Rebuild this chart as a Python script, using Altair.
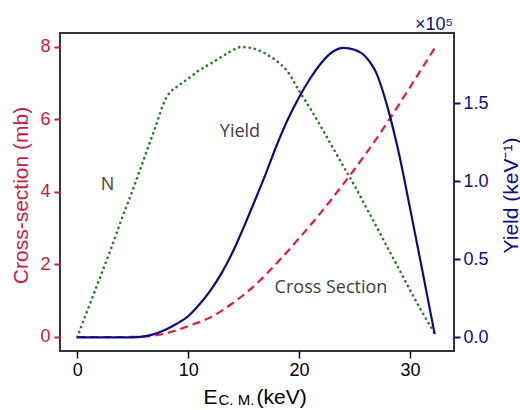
import altair as alt
import pandas as pd

# ---- data ----
cs_E = [0, 2, 4, 6, 7, 8, 10, 12, 14, 16, 18, 20, 22, 24, 26, 28, 30, 32.23]
cs_val = [0, 0, 0, 0.01, 0.04, 0.1, 0.3, 0.54, 0.93, 1.42, 2.04, 2.72, 3.44, 4.22, 5.04, 5.93, 6.88, 7.96]

y_E = [0, 2, 4, 5, 6, 7, 8, 9, 10, 11, 12, 13, 14, 15, 16, 17, 18, 19, 20, 21, 22, 23, 24, 25, 26, 27, 28, 29, 30, 31, 32.23]
y_val = [0, 0, 0, 0.0, 0.006, 0.022, 0.05, 0.088, 0.135, 0.21, 0.30, 0.41, 0.545, 0.705, 0.875, 1.05, 1.235,
         1.40, 1.54, 1.66, 1.76, 1.83, 1.857, 1.845, 1.80, 1.69, 1.47, 1.18, 0.83, 0.47, 0.02]

n_E = [0, 1, 2, 3, 4, 5, 6, 7, 8, 8.3, 9, 10, 11, 12, 13, 14, 14.8, 16, 17, 18, 19, 20, 21, 22, 23, 24, 25, 26,
       27, 28, 29, 30, 31, 32.23]
n_val = [0, 0.8, 1.6, 2.4, 3.25, 4.05, 4.9, 5.75, 6.58, 6.72, 6.9, 7.12, 7.35, 7.53, 7.72, 7.9, 7.99, 7.94, 7.8,
         7.6, 7.3, 6.78, 6.3, 5.78, 5.24, 4.7, 4.17, 3.6, 3.03, 2.45, 1.88, 1.3, 0.74, 0.1]

x_ticks = [0, 10, 20, 30]
left_ticks = [0, 2, 4, 6, 8]
right_ticks = [0.0, 0.5, 1.0, 1.5]

# ---- styles ----
CRIMSON = "#d0183c"
RED = "#e8193c"
NAVY = "#0c0c8a"
GREEN = "#1f7f1f"
FONT = "Liberation Sans"

cs_df = pd.DataFrame({"E": cs_E, "v": cs_val})
y_df = pd.DataFrame({"E": y_E, "v": y_val})
n_df = pd.DataFrame({"E": n_E, "v": n_val})

xscale = alt.Scale(domain=[-1.56, 33.97], nice=False, zero=False)
lscale = alt.Scale(domain=[-0.386, 8.377], nice=False, zero=False)
rscale = alt.Scale(domain=[-0.088, 1.952], nice=False, zero=False)

xaxis = alt.Axis(values=x_ticks, title=None, grid=False, domain=False, tickColor="black", tickWidth=1.5,
                 tickSize=7, labelPadding=3, labelFontSize=18, labelFont=FONT, labelColor="black", format="d")

x_enc = alt.X("E:Q", scale=xscale, axis=xaxis)

red = alt.Chart(cs_df).mark_line(color=RED, strokeWidth=2.2, strokeDash=[8, 5], interpolate="monotone").encode(
    x=x_enc,
    y=alt.Y("v:Q", scale=lscale, axis=alt.Axis(
        values=left_ticks, orient="left", grid=False, domain=False, tickColor=CRIMSON, tickWidth=2,
        tickSize=6, labelPadding=4, labelFontSize=18, labelFont=FONT, labelColor=CRIMSON,
        title="Cross-section (mb)", titleColor=CRIMSON, titleFontSize=21, titleFont=FONT,
        titleFontWeight="normal", titleAngle=270, titleAlign="center", titleBaseline="alphabetic",
        titleX=-33, titleY=162)),
)

green = alt.Chart(n_df).mark_line(color=GREEN, strokeWidth=2.6, strokeDash=[0.1, 5.2], strokeCap="round",
                                  interpolate="monotone").encode(
    x=x_enc,
    y=alt.Y("v:Q", scale=lscale, axis=None),
)

blue = alt.Chart(y_df).mark_line(color=NAVY, strokeWidth=2.2, interpolate="monotone").encode(
    x=x_enc,
    y=alt.Y("v:Q", scale=rscale, axis=alt.Axis(
        values=right_ticks, orient="right", format=".1f", grid=False, domain=False, tickColor=NAVY,
        tickWidth=2, tickSize=6, labelPadding=3, labelFontSize=18, labelFont=FONT, labelColor=NAVY,
        title="Yield (keV⁻¹)", titleColor=NAVY, titleFontSize=21, titleFont=FONT, titleFontWeight="normal",
        titleAngle=270, titleAlign="center", titleBaseline="alphabetic", titleX=63, titleY=162)),
)


def txt(s, x, y, size, color="black", align="left", font=FONT):
    return alt.Chart(pd.DataFrame({"t": [s]})).mark_text(
        font=font, fontSize=size, color=color, align=align, baseline="alphabetic").encode(
        x=alt.value(x), y=alt.value(y), text="t:N")


lab_n = txt("N", 47.5, 157, 18, color="#404040", align="center", font="Open Sans")
lab_y = txt("Yield", 180, 103.7, 18, color="#404040", align="center", font="Open Sans")
lab_c = txt("Cross Section", 271, 259.7, 18, color="#404040", align="center", font="Open Sans")

xt1 = txt("E", 143.5, 371, 21)
xt2 = txt("C. M.", 158.5, 371.5, 15)
xt3 = txt("(keV)", 196.5, 371, 21)
mult = txt("×10⁵", 393, -3, 18, color=NAVY, align="right")

chart = alt.layer(red, green, blue, lab_n, lab_y, lab_c, xt1, xt2, xt3, mult).resolve_scale(
    y="independent").properties(
    width=394, height=318,
    autosize=alt.AutoSizeParams(type="none"),
    padding={"left": 60, "top": 33, "right": 66, "bottom": 59},
    background="white",
).configure_view(stroke="#333333", strokeWidth=2)

chart.save("out.html", embed_options={"renderer": "svg", "actions": False})
